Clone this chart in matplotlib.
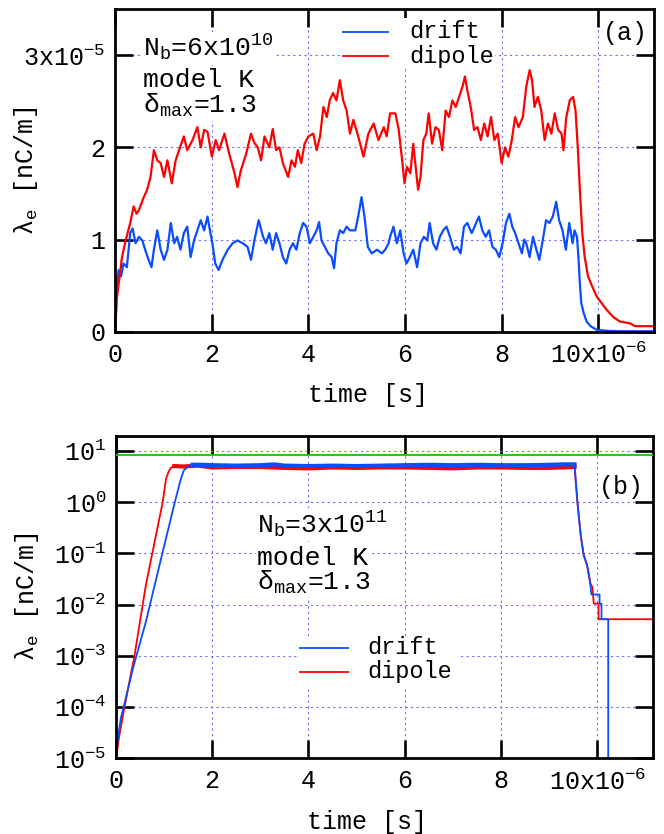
import numpy as np
import matplotlib
matplotlib.use("Agg")
import matplotlib.pyplot as plt
from matplotlib.patches import Rectangle

plt.rcParams['font.family'] = ['Liberation Mono', 'DejaVu Sans']
plt.rcParams['mathtext.fontset'] = 'custom'
plt.rcParams['mathtext.rm'] = 'Liberation Mono'
plt.rcParams['mathtext.default'] = 'regular'
plt.rcParams['font.size'] = 18

# ---- panel (a): time [us], lambda_e [1e-5 nC/m] ----
t_dipole_a = [0, 0.03, 0.07, 0.14, 0.21, 0.31, 0.38, 0.44, 0.49, 0.59, 0.66, 0.73, 0.80, 0.87, 0.94,
              1.01, 1.08, 1.17, 1.25, 1.32, 1.42, 1.49, 1.60, 1.70, 1.77, 1.84, 1.91, 2.00, 2.08,
              2.15, 2.26, 2.36, 2.47, 2.53, 2.60, 2.71, 2.81, 2.88, 2.95, 3.02, 3.09, 3.19, 3.26,
              3.33, 3.40, 3.47, 3.58, 3.65, 3.72, 3.78, 3.85, 3.92, 4.00, 4.10, 4.17, 4.24, 4.31,
              4.38, 4.44, 4.51, 4.58, 4.65, 4.72, 4.79, 4.86, 4.93, 5.03, 5.14, 5.24, 5.35, 5.45,
              5.56, 5.62, 5.69, 5.80, 5.87, 5.94, 5.99, 6.04, 6.11, 6.17, 6.22, 6.27, 6.32, 6.38,
              6.44, 6.49, 6.56, 6.63, 6.70, 6.77, 6.84, 6.91, 6.98, 7.05, 7.12, 7.19, 7.24, 7.29,
              7.36, 7.43, 7.50, 7.57, 7.64, 7.71, 7.78, 7.85, 7.92, 8.00, 8.07, 8.14, 8.21, 8.28,
              8.35, 8.44, 8.51, 8.58, 8.63, 8.68, 8.75, 8.82, 8.89, 8.96, 9.03, 9.10, 9.17, 9.24,
              9.28, 9.34, 9.41, 9.48, 9.53, 9.58, 9.62, 9.67, 9.72, 9.79, 9.86, 9.97, 10.07, 10.17,
              10.31, 10.45, 10.66, 10.76, 11.15]
lam_dipole_a = [0, 0.35, 0.52, 0.81, 0.98, 1.18, 1.36, 1.28, 1.32, 1.46, 1.54, 1.68, 1.97, 1.86, 1.83,
                1.68, 1.86, 1.61, 1.86, 1.97, 2.12, 1.97, 2.08, 2.22, 2.00, 2.19, 2.17, 1.90, 2.08,
                1.97, 2.15, 1.93, 1.72, 1.57, 1.75, 1.93, 2.15, 2.05, 2.00, 1.86, 2.12, 2.00, 2.20,
                1.97, 2.00, 1.83, 1.68, 1.86, 1.79, 1.97, 1.83, 2.04, 2.12, 2.15, 1.97, 2.12, 2.44,
                2.33, 2.51, 2.59, 2.51, 2.73, 2.51, 2.40, 2.15, 2.30, 2.12, 1.90, 2.15, 2.26, 2.08,
                2.22, 2.12, 2.37, 2.37, 2.19, 1.86, 1.61, 1.79, 1.72, 2.04, 1.79, 1.54, 1.68, 2.08,
                2.15, 2.37, 2.04, 2.22, 2.19, 1.97, 2.40, 2.33, 2.51, 2.44, 2.55, 2.66, 2.77, 2.62,
                2.44, 2.19, 2.22, 2.08, 2.26, 2.12, 2.33, 2.08, 2.15, 1.83, 2.00, 1.90, 2.08, 2.33,
                2.22, 2.33, 2.66, 2.84, 2.73, 2.44, 2.55, 2.40, 2.08, 2.26, 2.15, 2.37, 2.19, 2.15,
                1.97, 2.33, 2.51, 2.55, 2.40, 1.97, 1.54, 1.07, 0.81, 0.60, 0.51, 0.38, 0.31, 0.24,
                0.16, 0.11, 0.09, 0.06, 0.06]

t_drift_a = [0, 0.03, 0.07, 0.12, 0.17, 0.24, 0.31, 0.36, 0.42, 0.49, 0.56, 0.62, 0.69, 0.75, 0.80,
             0.87, 0.94, 1.01, 1.08, 1.15, 1.22, 1.28, 1.35, 1.42, 1.49, 1.56, 1.63, 1.70, 1.77,
             1.84, 1.91, 1.96, 2.01, 2.07, 2.14, 2.22, 2.33, 2.43, 2.53, 2.64, 2.74, 2.81, 2.88,
             2.97, 3.06, 3.12, 3.19, 3.26, 3.33, 3.40, 3.47, 3.54, 3.61, 3.68, 3.75, 3.82, 3.89,
             3.96, 4.03, 4.10, 4.17, 4.22, 4.27, 4.34, 4.41, 4.48, 4.53, 4.58, 4.65, 4.72, 4.79,
             4.86, 4.97, 5.03, 5.10, 5.16, 5.23, 5.31, 5.42, 5.52, 5.59, 5.66, 5.69, 5.76, 5.83,
             5.90, 5.97, 6.03, 6.10, 6.17, 6.25, 6.32, 6.39, 6.46, 6.51, 6.58, 6.65, 6.72, 6.79,
             6.86, 6.93, 7.01, 7.08, 7.15, 7.22, 7.29, 7.38, 7.44, 7.53, 7.60, 7.67, 7.74, 7.81,
             7.88, 7.95, 8.02, 8.09, 8.16, 8.22, 8.28, 8.35, 8.42, 8.47, 8.51, 8.58, 8.65, 8.72,
             8.78, 8.85, 8.92, 8.99, 9.06, 9.13, 9.19, 9.26, 9.33, 9.40, 9.47, 9.51, 9.56, 9.59,
             9.62, 9.65, 9.70, 9.76, 9.84, 9.97, 10.17, 10.45, 11.15]
lam_drift_a = [0, 0.45, 0.67, 0.60, 0.74, 0.70, 1.07, 1.12, 0.96, 1.03, 0.99, 0.89, 0.78, 0.70, 0.89,
               1.10, 0.89, 0.78, 0.89, 1.18, 0.96, 1.03, 0.89, 1.07, 1.14, 0.81, 0.99, 1.10, 1.21,
               1.10, 1.25, 1.10, 0.96, 0.74, 0.67, 0.78, 0.89, 0.96, 0.99, 0.96, 0.92, 0.78, 0.99,
               1.21, 1.03, 0.96, 1.07, 0.89, 1.07, 0.96, 0.81, 0.74, 0.89, 0.96, 0.89, 1.07, 1.18,
               1.14, 0.96, 1.03, 1.10, 1.19, 0.99, 0.92, 0.85, 0.81, 0.69, 0.96, 1.10, 1.07, 1.14,
               1.10, 1.10, 1.25, 1.46, 1.25, 0.92, 0.85, 0.89, 0.85, 0.89, 0.96, 1.03, 1.14, 0.96,
               1.10, 0.85, 0.74, 0.81, 0.89, 0.70, 0.96, 1.03, 0.99, 1.18, 0.96, 0.89, 1.03, 1.10,
               1.14, 1.03, 0.89, 0.92, 0.85, 1.14, 1.18, 1.07, 1.14, 1.25, 1.10, 1.03, 1.10, 0.92,
               0.89, 0.81, 0.96, 1.18, 1.28, 1.14, 1.07, 0.96, 0.85, 1.00, 0.96, 0.81, 1.03, 0.89,
               0.78, 0.99, 1.21, 1.18, 1.25, 1.41, 1.21, 1.10, 0.89, 1.18, 0.96, 1.10, 1.03, 0.81,
               0.52, 0.31, 0.20, 0.11, 0.06, 0.02, 0.01, 0.005, 0.005]

# ---- panel (b): time [us], lambda_e [nC/m] (log) ----
t_dipole_b = [0, 0.07, 0.17, 0.28, 0.38, 0.62, 0.97, 1.04, 1.09, 1.14, 1.21,
              1.4, 1.7, 2.0, 2.5, 3.0, 3.5, 4.0, 4.5, 5.0, 5.5, 6.0, 6.5, 7.0, 7.5, 8.0, 8.5,
              9.0, 9.3, 9.53,
              9.59, 9.66, 9.72, 9.79, 9.83, 9.86, 9.90, 9.93, 10.03, 10.03, 11.15]
lam_dipole_b = [1e-5, 2.8e-5, 9.3e-5, 3.2e-4, 9.5e-4, 2.4e-2, 1.0, 2.9, 3.9, 4.7, 5.1,
                5.0, 5.2, 4.8, 4.9, 4.9, 4.7, 4.6, 4.8, 4.7, 4.8, 4.8, 4.7, 4.6, 4.8, 4.8, 4.7,
                4.7, 4.8, 4.9,
                1.0, 0.22, 0.093, 0.059, 0.037, 0.026, 0.022, 0.0105, 0.0105, 0.0052, 0.0052]

t_drift_b = [0, 0.03, 0.10, 0.17, 0.35, 0.62, 0.97, 1.24, 1.35, 1.41, 1.50, 1.59,
             1.8, 2.0, 2.5, 3.0, 3.3, 3.5, 4.0, 4.5, 5.0, 5.5, 6.0, 6.5, 7.0, 7.5, 8.0, 8.5,
             9.0, 9.3, 9.53,
             9.59, 9.66, 9.72, 9.79, 9.83, 9.86, 9.88, 10.05, 10.05, 10.09, 10.09, 10.23, 10.23]
lam_drift_b = [1e-5, 2.1e-5, 6.0e-5, 1.1e-4, 5.6e-4, 4.6e-3, 0.107, 1.17, 2.9, 4.2, 5.1, 5.4,
               5.4, 5.3, 5.2, 5.3, 5.5, 5.2, 5.1, 5.2, 5.1, 5.2, 5.3, 5.4, 5.3, 5.4, 5.3, 5.3,
               5.4, 5.5, 5.5,
               1.0, 0.22, 0.093, 0.059, 0.037, 0.024, 0.0158, 0.0158, 0.0105, 0.0105, 0.0052,
               0.0052, 1e-9]
green_level = 8.4

blue = '#0a4cff'
red = '#ff0000'
grid_kw = dict(color='#6f6fff', linestyle=(0, (2, 3)), linewidth=0.8)
FS = 18


def style_axes(ax):
    for s in ax.spines.values():
        s.set_linewidth(2.0)
    ax.tick_params(which='major', direction='in', length=13, width=1.9,
                   top=True, right=True, labelsize=FS)
    ax.tick_params(axis='y', pad=7)
    ax.tick_params(axis='x', pad=8)
    ax.tick_params(which='minor', left=False, right=False, bottom=False, top=False)
    ax.grid(True, **grid_kw)
    ax.set_axisbelow(True)


def box_text(ax, x, y, s):
    ax.text(x, y, s, transform=ax.transAxes, fontsize=19, va='baseline', ha='left',
            bbox=dict(boxstyle='square,pad=0.05', facecolor='white', edgecolor='none'), zorder=5)


def key(ax, x0, x1, xt, rows, box):
    # gnuplot-style key: opaque box, short line samples, tight rows
    ax.add_patch(Rectangle((box[0], box[1]), box[2] - box[0], box[3] - box[1],
                           transform=ax.transAxes, facecolor='white', edgecolor='none', zorder=4))
    for (label, col), y in zip([('drift', blue), ('dipole', red)], rows):
        ax.plot([x0, x1], [y, y], transform=ax.transAxes, color=col, lw=1.3, zorder=5)
        ax.text(xt, y, label, transform=ax.transAxes, fontsize=17, va='center', ha='left', zorder=5)


fig = plt.figure(figsize=(6.64, 8.34), dpi=100)
ax1 = fig.add_axes([0.1736, 0.6023, 0.8117, 0.3866])
ax2 = fig.add_axes([0.1747, 0.0908, 0.8087, 0.3868])

xt = [0, 2e-6, 4e-6, 6e-6, 8e-6, 10e-6]
xtl = ['0', '2', '4', '6', '8', '10x10$^{-6}$']

# (a)
style_axes(ax1)
ax1.plot(np.array(t_drift_a) * 1e-6, np.array(lam_drift_a) * 1e-5, color=blue, lw=1.6)
ax1.plot(np.array(t_dipole_a) * 1e-6, np.array(lam_dipole_a) * 1e-5, color=red, lw=1.6)
ax1.set_xlim(0, 11.16e-6)
ax1.set_ylim(0, 3.5e-5)
ax1.set_xticks(xt, xtl)
ax1.set_yticks([0, 1e-5, 2e-5, 3e-5], ['0', '1', '2', '3x10$^{-5}$'])
ax1.set_xlabel('time [s]', fontsize=FS)
ax1.set_ylabel('λ$_{e}$ [nC/m]', fontsize=FS)
ax1.xaxis.set_label_coords(0.468, -0.16)
ax1.yaxis.set_label_coords(-0.14, 0.5)
box_text(ax1, 0.051, 0.852, 'N$_{b}$=6x10$^{10}$')
box_text(ax1, 0.051, 0.759, 'model K')
box_text(ax1, 0.051, 0.678, 'δ$_{max}$=1.3')
ax1.text(0.946, 0.927, '(a)', transform=ax1.transAxes, ha='center', va='center', fontsize=FS)
key(ax1, 0.4224, 0.506, 0.545, [0.9296, 0.855], (0.4224, 0.818, 0.7045, 0.973))

# (b)
style_axes(ax2)
ax2.set_yscale('log')
ax2.axhline(green_level, color='#00cc00', lw=1.3, zorder=3)
ax2.plot(np.array(t_dipole_b) * 1e-6, lam_dipole_b, color=red, lw=1.3)
ax2.plot(np.array(t_dipole_b[10:30]) * 1e-6, lam_dipole_b[10:30], color=red, lw=3.0)
ax2.plot(np.array(t_drift_b) * 1e-6, lam_drift_b, color=blue, lw=1.3)
ax2.plot(np.array(t_drift_b[11:31]) * 1e-6, lam_drift_b[11:31], color=blue, lw=3.0)
ax2.set_xlim(0, 11.16e-6)
ax2.set_ylim(1e-5, 20)
ax2.set_xticks(xt, xtl)
ax2.set_yticks([1e1, 1e0, 1e-1, 1e-2, 1e-3, 1e-4, 1e-5],
               ['10$^{1}$', '10$^{0}$', '10$^{-1}$', '10$^{-2}$', '10$^{-3}$', '10$^{-4}$', '10$^{-5}$'])
ax2.minorticks_off()
ax2.set_xlabel('time [s]', fontsize=FS)
ax2.set_ylabel('λ$_{e}$ [nC/m]', fontsize=FS)
ax2.xaxis.set_label_coords(0.468, -0.16)
ax2.yaxis.set_label_coords(-0.14, 0.5)
box_text(ax2, 0.263, 0.697, 'N$_{b}$=3x10$^{11}$')
box_text(ax2, 0.263, 0.599, 'model K')
box_text(ax2, 0.263, 0.522, 'δ$_{max}$=1.3')
ax2.text(0.942, 0.841, '(b)', transform=ax2.transAxes, ha='center', va='center', fontsize=FS)
key(ax2, 0.3426, 0.432, 0.4674, [0.342, 0.2675], (0.3426, 0.224, 0.6406, 0.379))

plt.savefig('out.png', dpi=100)
